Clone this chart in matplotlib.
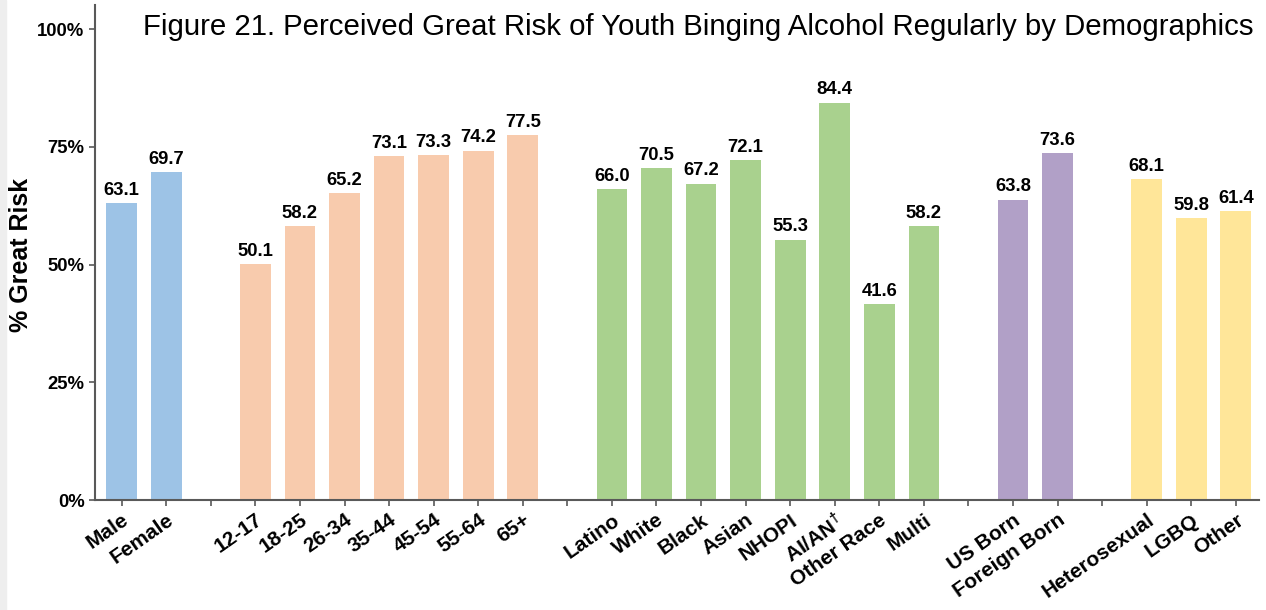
import matplotlib
matplotlib.use("Agg")
import matplotlib.pyplot as plt
import matplotlib.transforms as mtransforms
from matplotlib.patches import Rectangle

plt.rcParams['font.family'] = ['Liberation Sans', 'DejaVu Sans']
plt.rcParams['mathtext.fontset'] = 'custom'
plt.rcParams['mathtext.rm'] = 'Liberation Sans:bold'
plt.rcParams['mathtext.default'] = 'rm'

# groups of bars (a blank slot between groups)
sex_labels = ['Male', 'Female']
sex_values = [63.1, 69.7]
age_labels = ['12-17', '18-25', '26-34', '35-44', '45-54', '55-64', '65+']
age_values = [50.1, 58.2, 65.2, 73.1, 73.3, 74.2, 77.5]
race_labels = ['Latino', 'White', 'Black', 'Asian', 'NHOPI', r'AI/AN$^{\dagger}$', 'Other Race', 'Multi']
race_values = [66.0, 70.5, 67.2, 72.1, 55.3, 84.4, 41.6, 58.2]
birth_labels = ['US Born', 'Foreign Born']
birth_values = [63.8, 73.6]
orient_labels = ['Heterosexual', 'LGBQ', 'Other']
orient_values = [68.1, 59.8, 61.4]

groups = [
    (sex_labels, sex_values, '#9DC3E6'),
    (age_labels, age_values, '#F8CBAD'),
    (race_labels, race_values, '#A9D18E'),
    (birth_labels, birth_values, '#B1A0C7'),
    (orient_labels, orient_values, '#FFE699'),
]

fig = plt.figure(figsize=(12.66, 6.1), dpi=100)
fig.patches.append(Rectangle((0, 0), 0.005, 1, transform=fig.transFigure,
                             color='#eeeeee', zorder=-1))
ax = fig.add_axes([0.075, 0.1803, 0.9195, 0.8107])

ticks = []
ticklabels = []
pos = 0
for labels, values, color in groups:
    xs = list(range(pos, pos + len(labels)))
    bars = ax.bar(xs, values, width=0.69, color=color)
    for b, v in zip(bars, values):
        ax.annotate(f'{v:.1f}', (b.get_x() + b.get_width() / 2, v),
                    xytext=(0, 3), textcoords='offset points',
                    ha='center', va='bottom', fontsize=13.3, fontweight='bold')
    ticks += xs
    ticklabels += labels
    pos += len(labels)
    ticks.append(pos)
    ticklabels.append('')
    pos += 1
ticks = ticks[:-1]
ticklabels = ticklabels[:-1]

ax.set_xticks(ticks)
ax.set_xticklabels(ticklabels, rotation=35, ha='right', va='top', rotation_mode='anchor',
                   fontsize=15, fontweight='bold')
shift = mtransforms.ScaledTranslation(6 / 72, -4 / 72, fig.dpi_scale_trans)
for lab in ax.get_xticklabels():
    lab.set_transform(lab.get_transform() + shift)

ax.set_xlim(-0.6, 25.52)
ax.set_ylim(0, 105)
ax.set_yticks([0, 25, 50, 75, 100])
ax.set_yticklabels(['0%', '25%', '50%', '75%', '100%'], fontsize=13.3, fontweight='bold')
ax.set_ylabel('% Great Risk', fontsize=18, fontweight='bold')
ax.yaxis.set_label_coords(-0.053, 0.496)

for s in ['top', 'right']:
    ax.spines[s].set_visible(False)
for s in ['left', 'bottom']:
    ax.spines[s].set_color('#595959')
    ax.spines[s].set_linewidth(1.5)
ax.tick_params(axis='both', colors='#595959', labelcolor='black', length=4, width=1.2)

ax.text(0.995, 0.985, 'Figure 21. Perceived Great Risk of Youth Binging Alcohol Regularly by Demographics',
        transform=ax.transAxes, ha='right', va='top', fontsize=21.2)

fig.savefig('out.png', dpi=100)
